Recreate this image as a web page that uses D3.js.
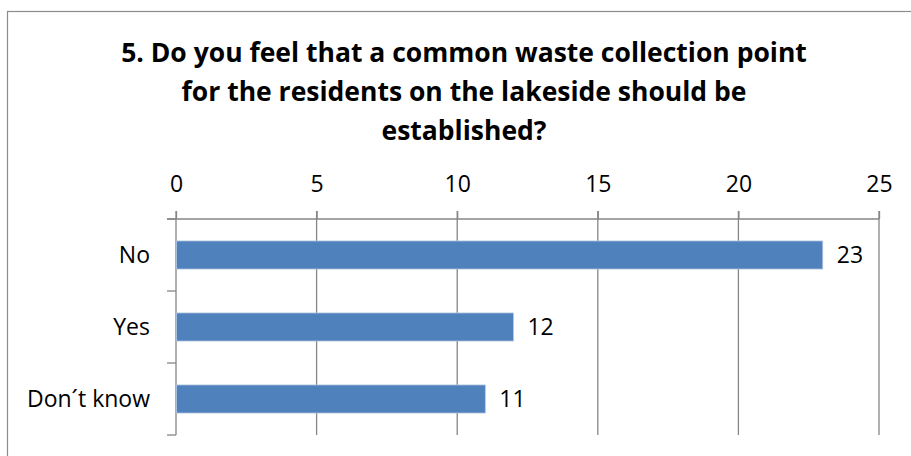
<!DOCTYPE html>
<html>
<head>
<meta charset="utf-8">
<script src="https://cdn.jsdelivr.net/npm/d3@7"></script>
<style>
  html, body { margin: 0; padding: 0; background: #fff; }
  svg { display: block; }
  text { font-family: "Open Sans", Lato, sans-serif; fill: #000; }
</style>
</head>
<body>
<svg id="chart" width="911" height="456"></svg>
<script>
const titleLines = [
  "5. Do you feel that a common waste collection point",
  "for the residents on the lakeside should be",
  "established?"
];
const categories = ["No", "Yes", "Don\u00B4t know"];
const values = [23, 12, 11];
const xTicks = [0, 5, 10, 15, 20, 25];

const W = 911, H = 456;
const margin = { left: 176, right: 32, top: 219, bottom: 21 };
const svg = d3.select("#chart");
const gridColor = "#868686";

// outer chart border
svg.append("rect")
  .attr("x", 7.5).attr("y", 11.5)
  .attr("width", 920).attr("height", 470)
  .attr("fill", "none").attr("stroke", "#8c8c8c").attr("stroke-width", 1.2);

// title
const title = svg.append("text")
  .attr("text-anchor", "middle")
  .style("font-weight", "bold")
  .style("font-size", "26.5px");
titleLines.forEach((t, i) => {
  title.append("tspan").attr("x", 464).attr("y", 62 + i * 39).text(t);
});

const x = d3.scaleLinear().domain([0, 25]).range([margin.left, W - margin.right]);
const y = d3.scaleBand().domain(categories).range([margin.top, H - margin.bottom]).paddingInner(0.61).paddingOuter(0.305);
const yBand = d3.scaleBand().domain(categories).range([margin.top, H - margin.bottom]);

// vertical gridlines (extend above axis as tick marks)
svg.append("g").selectAll("line").data(xTicks.slice(1)).join("line")
  .attr("x1", d => x(d)).attr("x2", d => x(d))
  .attr("y1", margin.top - 8).attr("y2", H - margin.bottom)
  .attr("stroke", gridColor).attr("stroke-width", 1.3);

// top value axis
const xAxis = svg.append("g")
  .attr("transform", `translate(0,${margin.top})`)
  .call(d3.axisTop(x).tickValues(xTicks).tickSize(8).tickSizeOuter(0).tickPadding(19));
xAxis.select(".domain").remove();
xAxis.selectAll(".tick line").attr("stroke", gridColor).attr("stroke-width", 1.3);
xAxis.selectAll(".tick text").style("font-size", "23px").style("font-family", "'Open Sans', sans-serif").attr("fill", "#000");

// horizontal axis line
svg.append("line")
  .attr("x1", margin.left - 9).attr("x2", x(25))
  .attr("y1", margin.top).attr("y2", margin.top)
  .attr("stroke", gridColor).attr("stroke-width", 1.3);

// category axis line
svg.append("line")
  .attr("x1", margin.left).attr("x2", margin.left)
  .attr("y1", margin.top - 8).attr("y2", H - margin.bottom)
  .attr("stroke", gridColor).attr("stroke-width", 1.3);

// category ticks at band boundaries
const bounds = categories.map(c => yBand(c)).concat([yBand.range()[1]]);
svg.append("g").selectAll("line").data(bounds).join("line")
  .attr("x1", margin.left - 9).attr("x2", margin.left)
  .attr("y1", d => d).attr("y2", d => d)
  .attr("stroke", gridColor).attr("stroke-width", 1.3);

// category labels
svg.append("g").selectAll("text").data(categories).join("text")
  .attr("x", 150)
  .attr("y", d => yBand(d) + yBand.bandwidth() / 2)
  .attr("dy", "0.36em")
  .attr("text-anchor", "end")
  .style("font-size", "23px")
  .text(d => d);

// bars
const data = categories.map((c, i) => ({ c, v: values[i] }));
svg.append("g").selectAll("rect").data(data).join("rect")
  .attr("x", x(0) + 0.5)
  .attr("y", d => y(d.c))
  .attr("width", d => x(d.v) - x(0) - 0.5)
  .attr("height", y.bandwidth())
  .attr("fill", "#4F81BD")
  .attr("stroke", "#b4c8e2").attr("stroke-width", 0.8);

// value labels
svg.append("g").selectAll("text").data(data).join("text")
  .attr("x", d => x(d.v) + 14)
  .attr("y", d => y(d.c) + y.bandwidth() / 2)
  .attr("dy", "0.36em")
  .style("font-size", "23px")
  .text(d => d.v);
</script>
</body>
</html>
